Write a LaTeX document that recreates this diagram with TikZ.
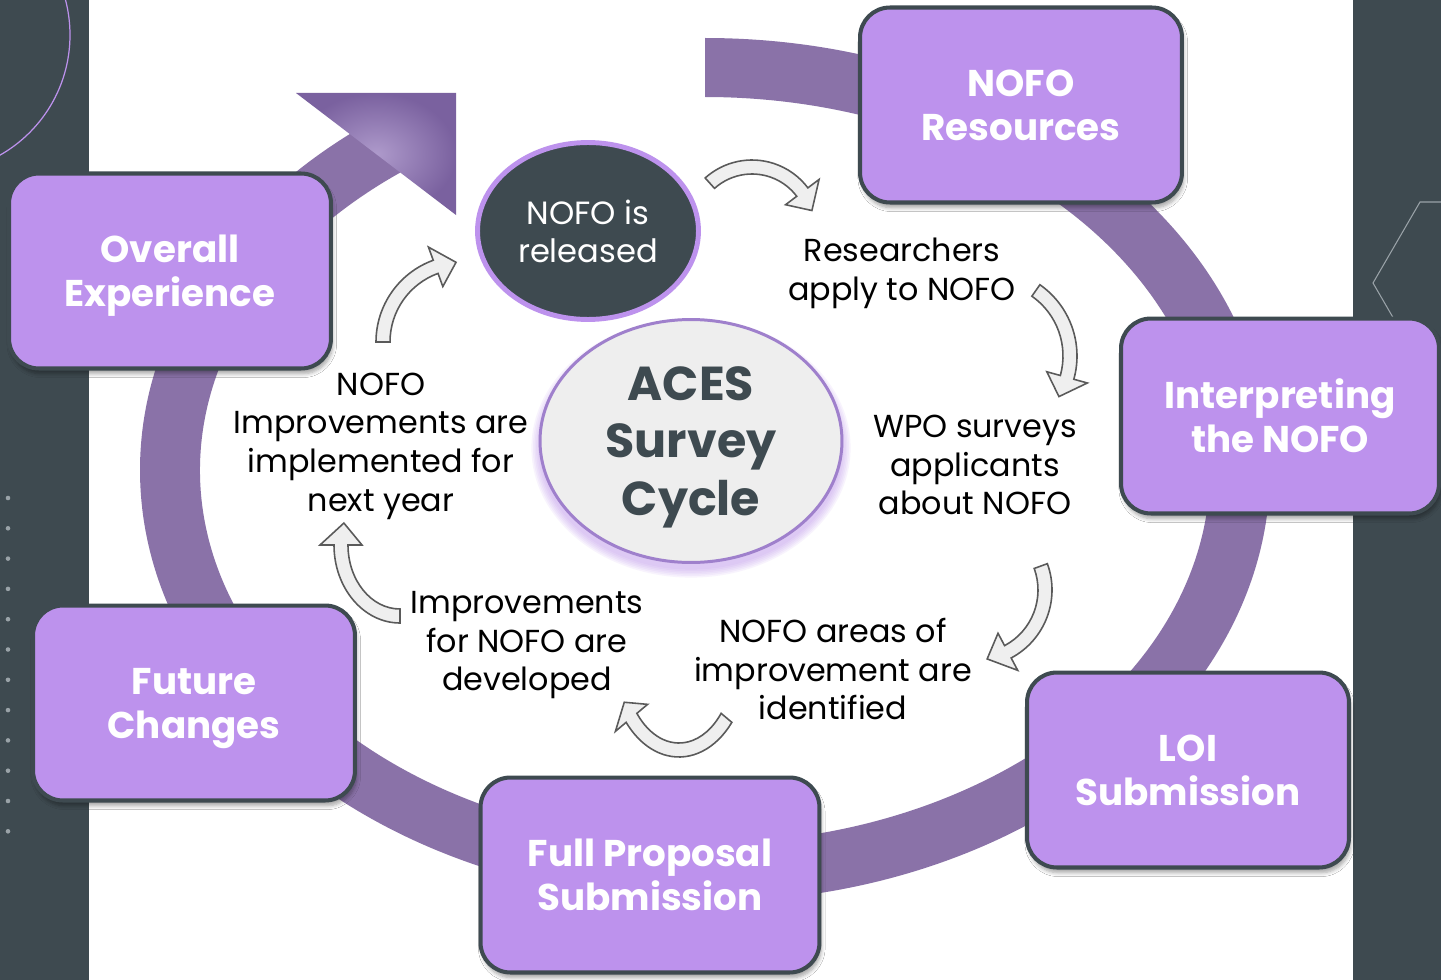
\documentclass[tikz,border=0pt]{standalone}
\usepackage{fontspec}
\setmainfont{Poppins}
\usetikzlibrary{shapes.geometric,shadows.blur}
\definecolor{slate}{HTML}{3E4A50}
\definecolor{lilac}{HTML}{BD92ED}
\definecolor{ringviolet}{HTML}{8A72A8}
\definecolor{headlight}{HTML}{AE9ACB}
\definecolor{headdark}{HTML}{7A619F}
\definecolor{arrowgray}{HTML}{EFEFEF}
\definecolor{arrowline}{HTML}{5A5A5A}
\definecolor{hubline}{HTML}{9F80CC}
\definecolor{hubgray}{HTML}{EEEEEE}
\definecolor{dotgray}{HTML}{9AA3A8}

% bent block arrow: centre, x radius, y radius, start angle, end angle, head sweep
\newcommand{\bentarrow}[6]{%
  \filldraw[bent]
    ([shift={(#1)}]#4:{#2+7} and {#3+7})
      arc[start angle=#4, end angle=#5, x radius={#2+7}, y radius={#3+7}]
    -- ([shift={(#1)}]#5:{#2+21} and {#3+21})
    -- ([shift={(#1)}]{#5+#6}:#2 and #3)
    -- ([shift={(#1)}]#5:{#2-21} and {#3-21})
    -- ([shift={(#1)}]#5:{#2-7} and {#3-7})
      arc[start angle=#5, end angle=#4, x radius={#2-7}, y radius={#3-7}]
    -- cycle;}

\begin{document}
\begin{tikzpicture}[x=0.02cm, y=0.02cm, yscale=-1,
  stage/.style={rectangle, rounded corners=17pt, fill=lilac, draw=slate, line width=2.3pt,
    minimum width=6.44cm, minimum height=3.9cm, align=center, text=white, text depth=0pt,
    font=\bfseries\fontsize{21.2}{25}\selectfont,
    blur shadow={shadow xshift=1pt, shadow yshift=-3pt, shadow blur steps=6, shadow opacity=35}},
  note/.style={align=center, inner sep=0pt, text depth=0pt, font=\fontsize{18.1}{22}\selectfont},
  bent/.style={fill=arrowgray, draw=arrowline, line width=0.9pt, line join=miter}]
\useasboundingbox (0,0) rectangle (1441,980);

%Background
\fill[slate] (0,0) rectangle (1441,980);
\fill[white] (89,0) rectangle (1353,980);
\begin{scope}
  \clip (0,0) rectangle (89,980);
  \draw[lilac, line width=0.7pt] (-68,35) circle[radius=138];
\end{scope}
\foreach \i in {0,...,11}
  \fill[dotgray] (8,{498+30.3*\i}) circle[radius=2.3];
\begin{scope}
  \clip (1353,0) rectangle (1441,980);
  \draw[dotgray, line width=0.6pt] (1441,202) -- (1420,202) -- (1373,283) -- (1420,364) -- (1441,364);
\end{scope}

%Cycle ring
\fill[ringviolet] ([shift={(705,470)}]-90:565 and 432)
  arc[start angle=-90, end angle=234, x radius=565, y radius=432]
  -- ([shift={(705,470)}]234:505 and 373)
  arc[start angle=234, end angle=-90, x radius=505, y radius=373] -- cycle;
\shade[inner color=headlight, outer color=headdark] (296,93) -- (456,93) -- (456,215) -- cycle;

%Hub glow
\foreach \k in {1,...,6}
  \fill[lilac, opacity=0.10] (691,448) ellipse[x radius={150+1.6*\k}, y radius={120+1.6*\k}];

%Stages
\node[stage] (res) at (1021,105) {NOFO\\Resources};
\node[stage, minimum width=6.36cm] (interp) at (1280,416) {Interpreting\\the NOFO};
\node[stage] (loi) at (1188,770) {LOI\\Submission};
\node[stage, minimum width=6.78cm] (full) at (650,875) {Full Proposal\\Submission};
\node[stage] (future) at (194,703) {Future\\Changes};
\node[stage] (overall) at (170,271) {Overall\\Experience};

%Centre
\node[ellipse, fill=hubgray, draw=hubline, line width=1.7pt, inner sep=0pt,
  minimum width=6.04cm, minimum height=4.86cm, text=slate, text depth=0pt,
  font=\bfseries\fontsize{27.1}{32.6}\selectfont, align=center] (hub) at (691,441) {ACES\\Survey\\Cycle};
\node[ellipse, fill=slate, draw=lilac, line width=2.8pt, inner sep=0pt,
  minimum width=4.42cm, minimum height=3.54cm, text=white, text depth=0pt,
  font=\fontsize{18.3}{21.5}\selectfont, align=center] (released) at (588,231) {NOFO is\\released};

%Steps of the survey
\node[note] (apply) at (902,269) {Researchers\\apply to NOFO};
\node[note] (wpo) at (975,465) {WPO surveys\\applicants\\about NOFO};
\node[note] (areas) at (833,669) {NOFO areas of\\improvement are\\identified};
\node[note] (developed) at (527,641) {Improvements\\for NOFO are\\developed};
\node[note] (implemented) at (381,442) {NOFO\\Improvements are\\implemented for\\next year};

%Bent arrows
\bentarrow{752,230}{63}{63}{-132}{-37}{19}
\bentarrow{990,356}{80}{80}{-55}{15.5}{15}
\bentarrow{975,590}{70}{70}{-20}{62}{18}
\bentarrow{679,660}{62}{90}{40}{140}{12}
\bentarrow{400,545}{59}{71}{90}{180}{18}
\bentarrow{463,342}{80}{80}{180}{250}{15}
\end{tikzpicture}
\end{document}
